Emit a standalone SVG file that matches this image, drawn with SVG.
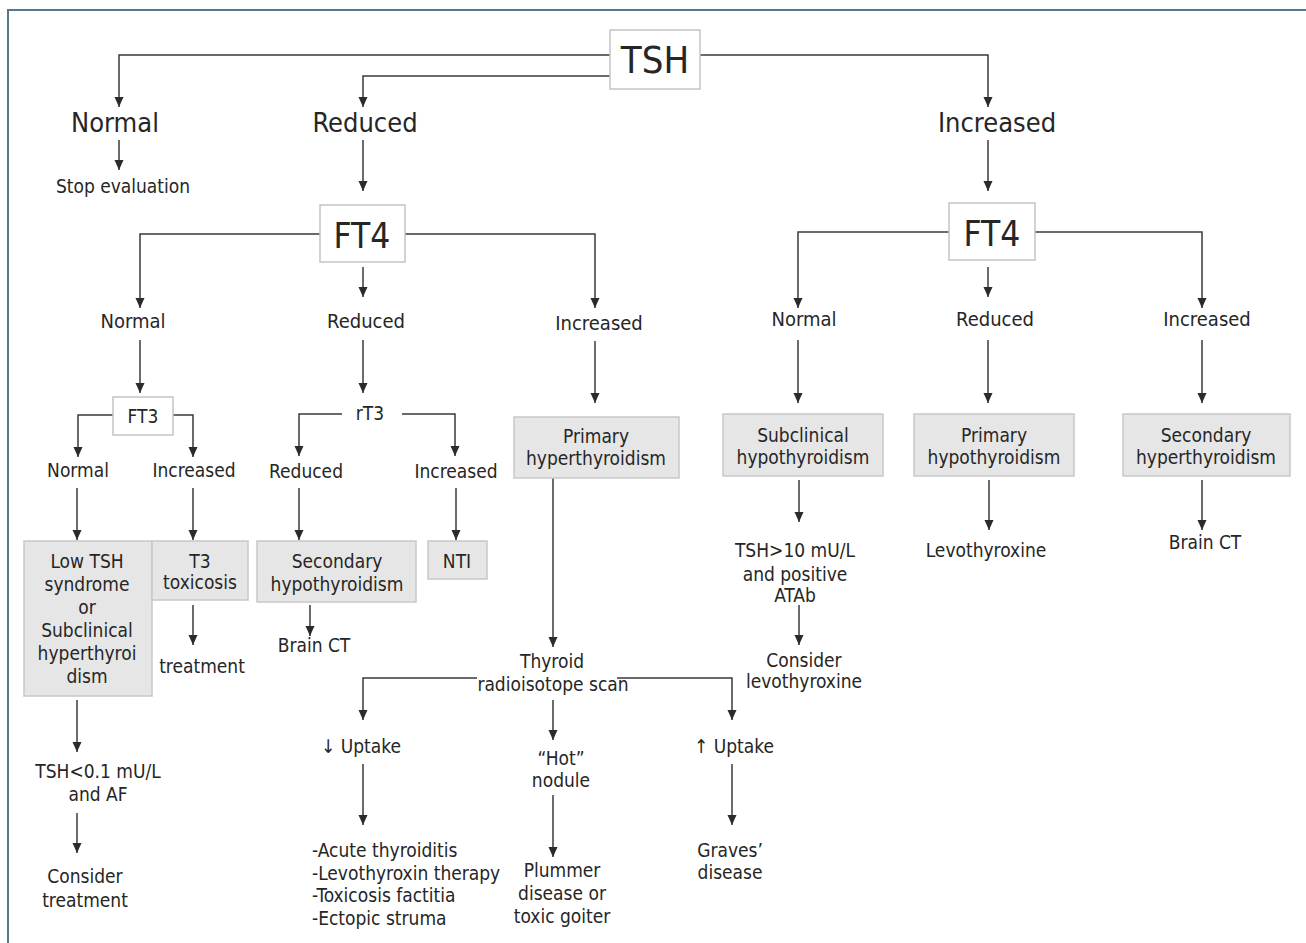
<svg xmlns="http://www.w3.org/2000/svg" width="1306" height="943" viewBox="0 0 1306 943">
<style>
text{font-family:"DejaVu Sans Condensed","DejaVu Sans",sans-serif;font-stretch:condensed;fill:#262626;text-anchor:middle}
.t1{font-size:27px}
.t2{font-size:20px}
.t3{font-size:19px}
.big{font-size:38px}
.ft4{font-size:35px}
.wb{fill:#ffffff;stroke:#c4c4c4;stroke-width:1.5}
.gb{fill:#e6e6e6;stroke:#c8c8c8;stroke-width:1.5}
.c{fill:none;stroke:#3a3a3a;stroke-width:1.5;marker-end:url(#ah)}
.s{text-anchor:start}
</style>
<defs>
<marker id="ah" markerUnits="userSpaceOnUse" markerWidth="10" markerHeight="10" refX="10" refY="4.5" orient="auto">
<path d="M0,0 L10,4.5 L0,9 z" fill="#2b2b2b"/>
</marker>
</defs>
<rect x="0" y="0" width="1306" height="943" fill="#ffffff"/>
<path d="M8,943 V10 H1306" fill="none" stroke="#56778c" stroke-width="2"/>

<g id="connectors">
<path class="c" d="M610,55 H119 V107"/>
<path class="c" d="M610,76 H363 V107"/>
<path class="c" d="M700,55 H988 V107"/>
<path class="c" d="M119,140 V170"/>
<path class="c" d="M363,140 V191"/>
<path class="c" d="M988,140 V191"/>
<path class="c" d="M320,234 H140 V308"/>
<path class="c" d="M363,267 V297"/>
<path class="c" d="M405,234 H595 V308"/>
<path class="c" d="M949,232 H798 V308"/>
<path class="c" d="M988,267 V297"/>
<path class="c" d="M1035,232 H1202 V308"/>
<path class="c" d="M140,340 V393"/>
<path class="c" d="M363,340 V393"/>
<path class="c" d="M595,341 V403"/>
<path class="c" d="M798,340 V403"/>
<path class="c" d="M988,340 V403"/>
<path class="c" d="M1202,340 V403"/>
<path class="c" d="M113,415 H78 V457"/>
<path class="c" d="M173,415 H193 V457"/>
<path class="c" d="M342,414 H299 V456"/>
<path class="c" d="M402,414 H455 V456"/>
<path class="c" d="M77,488 V540"/>
<path class="c" d="M193,488 V540"/>
<path class="c" d="M299,488 V540"/>
<path class="c" d="M456,488 V540"/>
<path class="c" d="M193,605 V645"/>
<path class="c" d="M310,605 V636"/>
<path class="c" d="M77,700 V752"/>
<path class="c" d="M77,813 V853"/>
<path class="c" d="M553,478 V647"/>
<path class="c" d="M477,678 H363 V720"/>
<path class="c" d="M617,678 H732 V720"/>
<path class="c" d="M553,700 V740"/>
<path class="c" d="M363,764 V825"/>
<path class="c" d="M553,795 V857"/>
<path class="c" d="M732,764 V825"/>
<path class="c" d="M799,480 V522"/>
<path class="c" d="M989,480 V530"/>
<path class="c" d="M1202,480 V530"/>
<path class="c" d="M799,605 V645"/>
</g>

<g id="tsh"><rect class="wb" x="610" y="30" width="90" height="59"/><text class="big" x="655" y="73">TSH</text></g>
<g id="normal1"><text class="t1" x="115" y="132">Normal</text></g>
<g id="stop"><text class="t3" x="123" y="193">Stop evaluation</text></g>
<g id="reduced1"><text class="t1" x="365" y="132">Reduced</text></g>
<g id="increased1"><text class="t1" x="997" y="132">Increased</text></g>

<g id="ft4a"><rect class="wb" x="320" y="205" width="85" height="57"/><text class="ft4" x="362" y="248">FT4</text></g>
<g id="ft4b"><rect class="wb" x="949" y="203" width="86" height="57"/><text class="ft4" x="992" y="246">FT4</text></g>

<g id="normal2"><text class="t2" x="133" y="328">Normal</text></g>
<g id="reduced2"><text class="t2" x="366" y="328">Reduced</text></g>
<g id="increased2"><text class="t2" x="599" y="330">Increased</text></g>
<g id="normal3"><text class="t2" x="804" y="326">Normal</text></g>
<g id="reduced3"><text class="t2" x="995" y="326">Reduced</text></g>
<g id="increased3"><text class="t2" x="1207" y="326">Increased</text></g>

<g id="ft3"><rect class="wb" x="113" y="397" width="60" height="38"/><text class="t3" x="143" y="423">FT3</text></g>
<g id="rt3"><text class="t3" x="370" y="420">rT3</text></g>
<g id="normal4"><text class="t3" x="78" y="477">Normal</text></g>
<g id="increased4"><text class="t3" x="194" y="477">Increased</text></g>
<g id="reduced5"><text class="t3" x="306" y="478">Reduced</text></g>
<g id="increased5"><text class="t3" x="456" y="478">Increased</text></g>

<g id="primhyper"><rect class="gb" x="514" y="417" width="165" height="61"/><text class="t3" x="596" y="443">Primary</text><text class="t3" x="596" y="465">hyperthyroidism</text></g>
<g id="subhypo"><rect class="gb" x="723" y="414" width="160" height="62"/><text class="t3" x="803" y="442">Subclinical</text><text class="t3" x="803" y="464">hypothyroidism</text></g>
<g id="primhypo"><rect class="gb" x="914" y="414" width="160" height="62"/><text class="t3" x="994" y="442">Primary</text><text class="t3" x="994" y="464">hypothyroidism</text></g>
<g id="sechyper"><rect class="gb" x="1123" y="414" width="167" height="62"/><text class="t3" x="1206" y="442">Secondary</text><text class="t3" x="1206" y="464">hyperthyroidism</text></g>

<g id="lowtsh"><rect class="gb" x="24" y="541" width="128" height="155"/>
<text class="t3" x="87" y="568">Low TSH</text><text class="t3" x="87" y="591">syndrome</text><text class="t3" x="87" y="614">or</text><text class="t3" x="87" y="637">Subclinical</text><text class="t3" x="87" y="660">hyperthyroi</text><text class="t3" x="87" y="683">dism</text></g>
<g id="t3tox"><rect class="gb" x="152" y="541" width="96" height="59"/><text class="t3" x="200" y="568">T3</text><text class="t3" x="200" y="589">toxicosis</text></g>
<g id="sechypo"><rect class="gb" x="257" y="541" width="159" height="61"/><text class="t3" x="337" y="568">Secondary</text><text class="t3" x="337" y="591">hypothyroidism</text></g>
<g id="nti"><rect class="gb" x="428" y="541" width="59" height="38"/><text class="t3" x="457" y="568">NTI</text></g>

<g id="treatment1"><text class="t3" x="202" y="673">treatment</text></g>
<g id="braint1"><text class="t3" x="314" y="652">Brain CT</text></g>
<g id="tshlow"><text class="t3" x="98" y="778">TSH&lt;0.1 mU/L</text><text class="t3" x="98" y="801">and AF</text></g>
<g id="consider1"><text class="t3" x="85" y="883">Consider</text><text class="t3" x="85" y="907">treatment</text></g>

<g id="scan"><text class="t3" x="552" y="668">Thyroid</text><text class="t3" x="553" y="691">radioisotope scan</text></g>
<g id="uptakedown"><text class="t3" x="361" y="753">↓ Uptake</text></g>
<g id="hot"><text class="t3" x="561" y="765">“Hot”</text><text class="t3" x="561" y="787">nodule</text></g>
<g id="uptakeup"><text class="t3" x="734" y="753">↑ Uptake</text></g>
<g id="causes"><text class="t3 s" x="312" y="857">-Acute thyroiditis</text><text class="t3 s" x="312" y="880">-Levothyroxin therapy</text><text class="t3 s" x="312" y="902">-Toxicosis factitia</text><text class="t3 s" x="312" y="925">-Ectopic struma</text></g>
<g id="plummer"><text class="t3" x="562" y="877">Plummer</text><text class="t3" x="562" y="900">disease or</text><text class="t3" x="562" y="923">toxic goiter</text></g>
<g id="graves"><text class="t3" x="730" y="857">Graves’</text><text class="t3" x="730" y="879">disease</text></g>

<g id="tshhigh"><text class="t3" x="795" y="557">TSH&gt;10 mU/L</text><text class="t3" x="795" y="581">and positive</text><text class="t3" x="795" y="602">ATAb</text></g>
<g id="consider2"><text class="t3" x="804" y="667">Consider</text><text class="t3" x="804" y="688">levothyroxine</text></g>
<g id="levo"><text class="t3" x="986" y="557">Levothyroxine</text></g>
<g id="braint2"><text class="t3" x="1205" y="549">Brain CT</text></g>
</svg>
